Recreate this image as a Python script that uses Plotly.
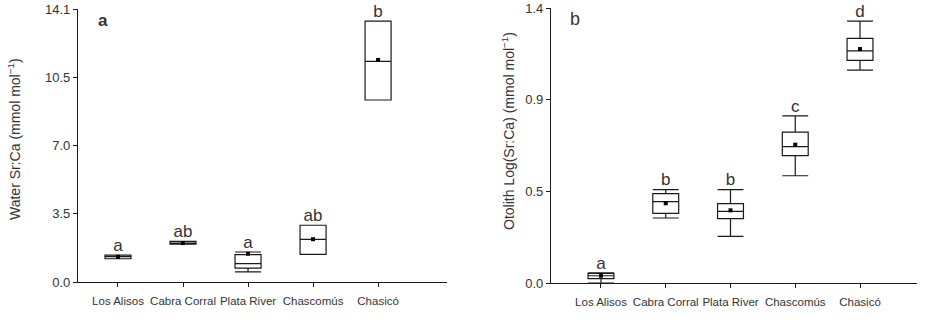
import plotly.graph_objects as go

categories = ["Los Alisos", "Cabra Corral", "Plata River", "Chascomús", "Chasicó"]

# Panel a: Water Sr:Ca (mmol mol-1)
water_lower = [1.20, 1.95, 0.52, 1.43, 9.40]
water_q1 = [1.20, 1.95, 0.72, 1.43, 9.40]
water_median = [1.31, 2.01, 0.95, 2.20, 11.40]
water_q3 = [1.39, 2.10, 1.41, 2.93, 13.47]
water_upper = [1.39, 2.10, 1.55, 2.93, 13.47]
water_mean = [1.30, 2.01, 1.46, 2.21, 11.47]
water_letters = ["a", "ab", "a", "ab", "b"]
water_ticks = [0.0, 3.525, 7.05, 10.575, 14.1]
water_ticktext = ["0.0", "3.5", "7.0", "10.5", "14.1"]

# Panel b: Otolith Log(Sr:Ca) (mmol mol-1)
oto_lower = [0.000, 0.331, 0.237, 0.546, 1.084]
oto_q1 = [0.022, 0.354, 0.328, 0.648, 1.133]
oto_median = [0.037, 0.414, 0.365, 0.694, 1.182]
oto_q3 = [0.049, 0.455, 0.404, 0.768, 1.245]
oto_upper = [0.052, 0.475, 0.475, 0.851, 1.333]
oto_mean = [0.037, 0.406, 0.370, 0.704, 1.191]
oto_letters = ["a", "b", "b", "c", "d"]
oto_ticks = [0.0, 1.4 / 3, 2.8 / 3, 1.4]
oto_ticktext = ["0.0", "0.5", "0.9", "1.4"]

xpos = list(range(1, len(categories) + 1))
LINE = "#1a1a1a"
TEXT = "#333333"
FONT = "Liberation Sans, Arial, sans-serif"

fig = go.Figure()


def add_panel(xa, ya, lower, q1, med, q3, upper, mean, letters):
    fig.add_trace(go.Box(
        x=xpos, lowerfence=lower, q1=q1, median=med, q3=q3, upperfence=upper,
        width=0.4, whiskerwidth=1, fillcolor="white",
        line=dict(color=LINE, width=1.2), boxpoints=False,
        xaxis=xa, yaxis=ya, showlegend=False, hoverinfo="skip"))
    fig.add_trace(go.Scatter(
        x=xpos, y=mean, mode="markers",
        marker=dict(symbol="square", size=4, color="black"),
        xaxis=xa, yaxis=ya, showlegend=False, hoverinfo="skip"))
    fig.add_trace(go.Scatter(
        x=xpos, y=upper, mode="text", text=letters, textposition="top center",
        textfont=dict(family=FONT, size=17, color=TEXT),
        xaxis=xa, yaxis=ya, showlegend=False, hoverinfo="skip", cliponaxis=False))


add_panel("x", "y", water_lower, water_q1, water_median, water_q3, water_upper, water_mean, water_letters)
add_panel("x2", "y2", oto_lower, oto_q1, oto_median, oto_q3, oto_upper, oto_mean, oto_letters)

W, H = 940, 328
xr1 = [0.385, 6.06]
xr2 = [0.228, 5.88]


def px(v):
    return v / W


def py(v):
    return (H - v) / H


common_x = dict(
    showline=True, linecolor=LINE, linewidth=1.2, showgrid=False, zeroline=False,
    ticks="outside", ticklen=4, tickcolor=LINE, tickwidth=1, tickangle=0,
    automargin=False,
    tickfont=dict(family=FONT, size=11.5, color=TEXT), ticklabelstandoff=4,
)
common_y = dict(
    showline=True, linecolor=LINE, linewidth=1.2, showgrid=False, zeroline=False,
    ticks="outside", ticklen=4, tickcolor=LINE, tickwidth=1, automargin=False,
    tickfont=dict(family=FONT, size=13, color=TEXT),
)

# small end-of-axis ticks, as in the reference
end_ticks = [
    dict(type="line", xref="x", yref="y", x0=xr1[1], x1=xr1[1], ysizemode="pixel",
         yanchor=0, y0=0, y1=-4, line=dict(color=LINE, width=1)),
    dict(type="line", xref="x2", yref="y2", x0=xr2[1], x1=xr2[1], ysizemode="pixel",
         yanchor=0, y0=0, y1=-4, line=dict(color=LINE, width=1)),
]

fig.update_layout(
    width=W, height=H,
    margin=dict(l=0, r=0, t=0, b=0),
    paper_bgcolor="white", plot_bgcolor="white",
    showlegend=False,
    shapes=end_ticks,
    xaxis=dict(domain=[px(78), px(447)], range=xr1,
               tickmode="array", tickvals=xpos, ticktext=categories,
               anchor="y", **common_x),
    yaxis=dict(domain=[py(282), py(9)], range=[0, 14.1001],
               tickmode="array", tickvals=water_ticks, ticktext=water_ticktext,
               anchor="x", **common_y),
    xaxis2=dict(domain=[px(551), px(917)], range=xr2,
                tickmode="array", tickvals=xpos, ticktext=categories,
                anchor="y2", **common_x),
    yaxis2=dict(domain=[py(283), py(8)], range=[0, 1.4001],
                tickmode="array", tickvals=oto_ticks, ticktext=oto_ticktext,
                anchor="x2", **common_y),
    annotations=[
        dict(text="Water Sr:Ca (mmol mol<sup>−1</sup>)", textangle=-90,
             x=px(14), y=py(139), xref="paper", yref="paper", xanchor="center", yanchor="middle",
             showarrow=False, font=dict(family=FONT, size=14, color=TEXT)),
        dict(text="Otolith Log(Sr:Ca) (mmol mol<sup>−1</sup>)", textangle=-90,
             x=px(508), y=py(131), xref="paper", yref="paper", xanchor="center", yanchor="middle",
             showarrow=False, font=dict(family=FONT, size=14, color=TEXT)),
        dict(text="<b>a</b>", x=px(103), y=py(20), xref="paper", yref="paper",
             xanchor="center", yanchor="middle",
             showarrow=False, font=dict(family=FONT, size=17, color=TEXT)),
        dict(text="b", x=px(575), y=py(19), xref="paper", yref="paper",
             xanchor="center", yanchor="middle",
             showarrow=False, font=dict(family=FONT, size=18, color=TEXT)),
    ],
)

fig.write_html("out.html", config={"displayModeBar": False},
               post_script="document.body.style.margin='0px';")
